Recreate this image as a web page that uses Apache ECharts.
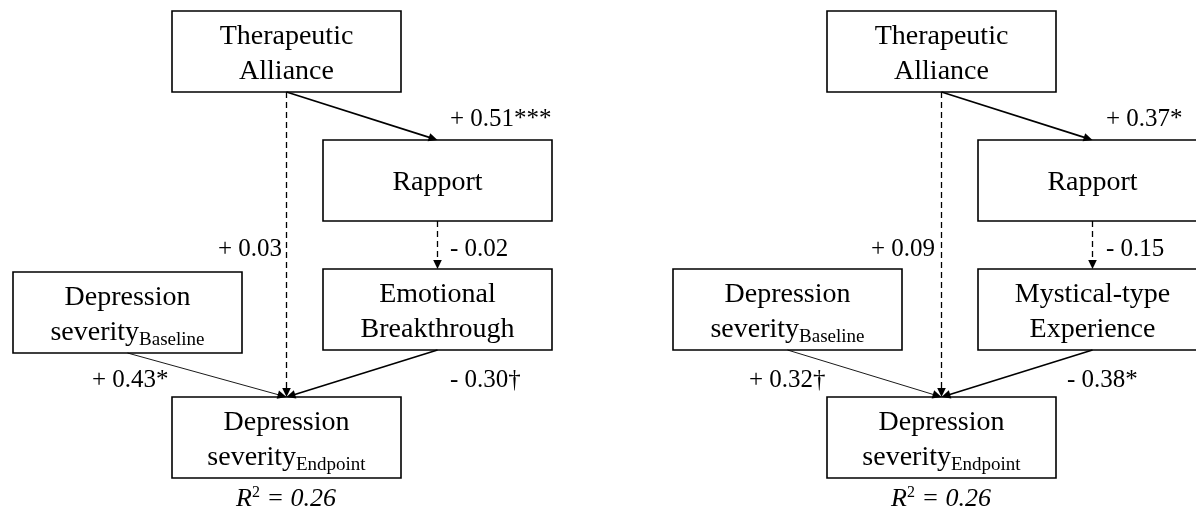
<!DOCTYPE html>
<html>
<head>
<meta charset="utf-8">
<script src="https://cdn.jsdelivr.net/npm/echarts@6/dist/echarts.min.js"></script>
<style>
html, body { margin: 0; padding: 0; background: #fff; }
#chart { width: 1196px; height: 508px; }
</style>
</head>
<body>
<div id="chart"></div>
<script>
// variables in the two mediation models
var predictorLabel = ['Therapeutic', 'Alliance'];
var rapportLabel = ['Rapport'];
var mediatorLabels = [['Emotional', 'Breakthrough'], ['Mystical-type', 'Experience']];
var outcomeLabel = ['Depression', 'severity'];
var baselineSub = 'Baseline';
var endpointSub = 'Endpoint';

// path coefficients: TA->Rapport, Rapport->Mediator, Mediator->Outcome, TA->Outcome, Baseline->Outcome
var pathKeys = ['a', 'b', 'c', 'direct', 'baseline'];
var coefLeft = [0.51, -0.02, -0.30, 0.03, 0.43];
var coefRight = [0.37, -0.15, -0.38, 0.09, 0.32];
var sigLeft = ['***', '', '\u2020', '', '*'];
var sigRight = ['*', '', '*', '', '\u2020'];
var rSquared = [0.26, 0.26];

var coefs = [coefLeft, coefRight];
var sigs = [sigLeft, sigRight];

// layout (pixels, relative to each panel)
var FONT = '"Liberation Serif", "Times New Roman", serif';
var INK = '#000';
var TEXT_DY = 2.5;
var panelOffset = [0, 655];
var boxW = 229, boxH = 81;
var boxTopLeft = {
    ta:   [[172, 11], [172, 11]],
    rap:  [[323, 140], [323, 140]],
    med:  [[323, 269], [323, 269]],
    base: [[13, 272], [18, 269]],
    end:  [[172, 397], [172, 397]]
};
var labelAnchor = {
    a:        [[450, 117, 'left'], [451, 117, 'left']],
    b:        [[450, 247, 'left'], [451, 247, 'left']],
    c:        [[450, 378, 'left'], [412, 378, 'left']],
    direct:   [[282, 247, 'right'], [280, 247, 'right']],
    baseline: [[92, 378, 'left'], [94, 378, 'left']]
};
var r2Anchor = [286, 497];

var boxRich = {
    m: { fontFamily: FONT, fontSize: 28, lineHeight: 35, fill: INK },
    s: { fontFamily: FONT, fontSize: 19, lineHeight: 19, verticalAlign: 'bottom', fill: INK }
};

function fmtCoef(v, sig) {
    return (v < 0 ? '- ' : '+ ') + Math.abs(v).toFixed(2) + sig;
}

function renderPanel(params, api) {
    var p = api.value(0);
    var ox = panelOffset[p];
    var children = [];
    function pt(x, y) { return api.coord([ox + x, y]); }
    function topC(key) { var t = boxTopLeft[key][p]; return [t[0] + boxW / 2, t[1]]; }
    function botC(key) { var t = boxTopLeft[key][p]; return [t[0] + boxW / 2, t[1] + boxH]; }

    function box(key, text) {
        var t = boxTopLeft[key][p];
        var a = pt(t[0], t[1]), b = pt(t[0] + boxW, t[1] + boxH);
        children.push({
            type: 'rect',
            shape: { x: a[0], y: a[1], width: b[0] - a[0], height: b[1] - a[1] },
            style: { fill: '#fff', stroke: INK, lineWidth: 1.6 }
        });
        children.push({
            type: 'text',
            style: {
                text: text, x: (a[0] + b[0]) / 2, y: (a[1] + b[1]) / 2 + TEXT_DY,
                align: 'center', verticalAlign: 'middle',
                fontFamily: FONT, fontSize: 28, lineHeight: 35, fill: INK,
                rich: boxRich
            }
        });
    }

    function arrow(from, to, dashed, width) {
        var a = pt(from[0], from[1]), b = pt(to[0], to[1]);
        var dx = b[0] - a[0], dy = b[1] - a[1];
        var len = Math.sqrt(dx * dx + dy * dy), ux = dx / len, uy = dy / len;
        var L = 9, HW = 4.3;
        var bs = [b[0] - ux * L, b[1] - uy * L];
        children.push({
            type: 'line',
            shape: { x1: a[0], y1: a[1], x2: bs[0] + ux * 2, y2: bs[1] + uy * 2 },
            style: { stroke: INK, lineWidth: width, lineDash: dashed ? [6, 4] : null }
        });
        children.push({
            type: 'polygon',
            shape: { points: [b, [bs[0] - uy * HW, bs[1] + ux * HW], [bs[0] + uy * HW, bs[1] - ux * HW]] },
            style: { fill: INK }
        });
    }

    box('ta', predictorLabel.join('\n'));
    box('rap', rapportLabel.join('\n'));
    box('med', mediatorLabels[p].join('\n'));
    box('base', outcomeLabel[0] + '\n{m|' + outcomeLabel[1] + '}{s|' + baselineSub + '}');
    box('end', outcomeLabel[0] + '\n{m|' + outcomeLabel[1] + '}{s|' + endpointSub + '}');

    var ends = {
        a: [botC('ta'), topC('rap')],
        b: [botC('rap'), topC('med')],
        c: [botC('med'), topC('end')],
        direct: [botC('ta'), topC('end')],
        baseline: [botC('base'), topC('end')]
    };
    pathKeys.forEach(function (k, i) {
        var nonSig = sigs[p][i] === '';
        var w = k === 'baseline' ? 0.9 : (nonSig ? 1.3 : 1.6);
        arrow(ends[k][0], ends[k][1], nonSig, w);
        var la = labelAnchor[k][p];
        var c = pt(la[0], la[1]);
        children.push({
            type: 'text',
            style: {
                text: fmtCoef(coefs[p][i], sigs[p][i]), x: c[0], y: c[1] + TEXT_DY,
                align: la[2], verticalAlign: 'middle',
                fontFamily: FONT, fontSize: 25, fill: INK
            }
        });
    });

    var rc = pt(r2Anchor[0], r2Anchor[1]);
    children.push({
        type: 'text',
        style: {
            text: '{i|R}{u|2}{i| = ' + rSquared[p].toFixed(2) + '}',
            x: rc[0], y: rc[1] + TEXT_DY, align: 'center', verticalAlign: 'middle',
            rich: {
                i: { fontFamily: FONT, fontStyle: 'italic', fontSize: 26, lineHeight: 30, fill: INK },
                u: { fontFamily: FONT, fontSize: 16, lineHeight: 16, verticalAlign: 'top', fill: INK }
            }
        }
    });

    return { type: 'group', children: children };
}

var chart = echarts.init(document.getElementById('chart'));
chart.setOption({
    animation: false,
    backgroundColor: '#fff',
    grid: { left: 0, right: 0, top: 0, bottom: 0 },
    xAxis: { type: 'value', min: 0, max: 1196, show: false },
    yAxis: { type: 'value', min: 0, max: 508, inverse: true, show: false },
    series: [{
        type: 'custom',
        coordinateSystem: 'cartesian2d',
        clip: false,
        renderItem: renderPanel,
        data: [[0, 0], [1, 0]]
    }]
});
</script>
</body>
</html>
